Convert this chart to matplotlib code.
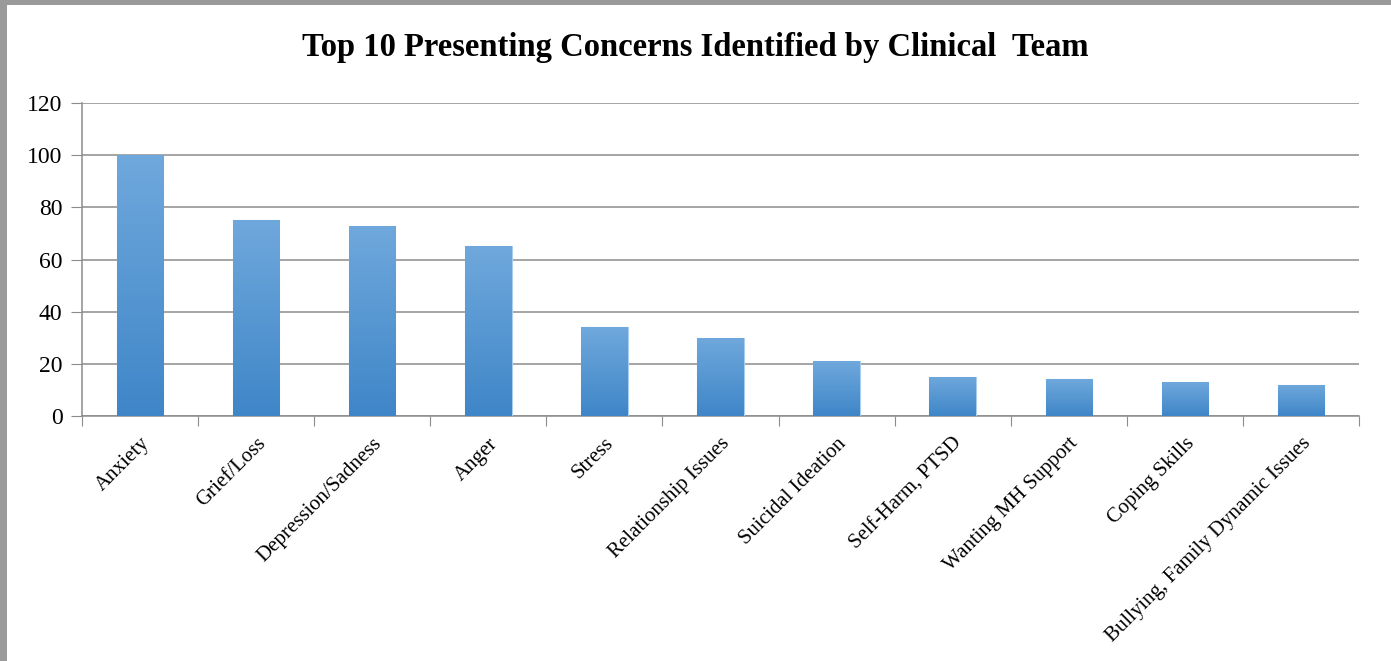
import matplotlib
matplotlib.use("Agg")
import matplotlib.pyplot as plt
import matplotlib.transforms as mtransforms
import numpy as np
from matplotlib.patches import Rectangle
from matplotlib.colors import LinearSegmentedColormap

categories = ["Anxiety", "Grief/Loss", "Depression/Sadness", "Anger", "Stress",
              "Relationship Issues", "Suicidal Ideation", "Self-Harm, PTSD",
              "Wanting MH Support", "Coping Skills", "Bullying, Family Dynamic Issues"]
values = [100, 75, 73, 65, 34, 30, 21, 15, 14, 13, 12]
yticks = [0, 20, 40, 60, 80, 100, 120]
title = "Top 10 Presenting Concerns Identified by Clinical  Team"

plt.rcParams['font.family'] = ['Liberation Serif', 'DejaVu Serif']

W, H = 1391, 661
fig = plt.figure(figsize=(W / 100, H / 100), dpi=100)
fig.patch.set_facecolor('white')
# gray frame (top and left)
fig.patches.append(Rectangle((0, 1 - 5 / H), 1, 5 / H, transform=fig.transFigure,
                             facecolor='#9a9a9a', edgecolor='none', zorder=0))
fig.patches.append(Rectangle((0, 0), 7 / W, 1, transform=fig.transFigure,
                             facecolor='#9a9a9a', edgecolor='none', zorder=0))

left, right = 82 / W, 1359 / W
bottom, top = 1 - 416 / H, 1 - 103 / H
ax = fig.add_axes([left, bottom, right - left, top - bottom])

n = len(categories)
x = np.arange(n)
bw = 0.4
bars = ax.bar(x, values, width=bw, color='#5a9bd8', edgecolor='#a9cdee', linewidth=0.8, zorder=3)

# vertical gradient inside each bar
grad = np.linspace(0, 1, 256).reshape(-1, 1)
cmap = LinearSegmentedColormap.from_list('g', ['#3f86c8', '#6fa8dc'])
for b in bars:
    bx, by = b.get_x(), b.get_y()
    bwid, bh = b.get_width(), b.get_height()
    im = ax.imshow(grad, extent=(bx, bx + bwid, by, by + bh), origin='lower',
                   aspect='auto', cmap=cmap, zorder=3.5)
    im.set_clip_path(b)

ax.set_xlim(-0.5, n - 0.5)
ax.set_ylim(0, 120)
ax.set_yticks(yticks)
ax.set_yticklabels([str(v) for v in yticks], fontsize=17)
ax.yaxis.grid(True, color='#8c8c8c', linewidth=1.1, zorder=0)
ax.set_axisbelow(True)

ax.set_xticks(np.arange(n + 1) - 0.5, minor=False)
ax.set_xticklabels([])
ax.set_xticks(x, minor=True)
ax.set_xticklabels(categories, minor=True, rotation=45, ha='right', va='top',
                   rotation_mode='anchor', fontsize=15)
offset = mtransforms.ScaledTranslation(-5 / 100, 0, fig.dpi_scale_trans)
for lbl in ax.get_xticklabels(minor=True):
    lbl.set_transform(lbl.get_transform() + offset)
ax.tick_params(axis='x', which='minor', length=0, pad=13)
ax.tick_params(axis='x', which='major', length=7, color='#8c8c8c', direction='out')
ax.tick_params(axis='y', length=8, color='#8c8c8c', direction='out', pad=6)

for s in ['top', 'right']:
    ax.spines[s].set_visible(False)
for s in ['left', 'bottom']:
    ax.spines[s].set_color('#8c8c8c')
    ax.spines[s].set_linewidth(1.1)

fig.text(0.5, 1 - 56 / H, title, ha='center', va='baseline', fontsize=23.5, fontweight='bold')

fig.savefig('out.png', dpi=100)
